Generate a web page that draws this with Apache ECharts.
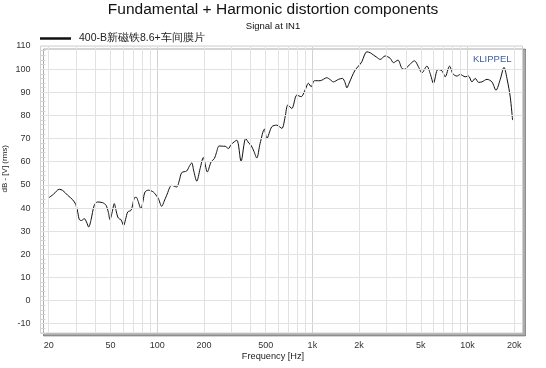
<!DOCTYPE html>
<html><head><meta charset="utf-8">
<script src="https://cdn.jsdelivr.net/npm/echarts@6/dist/echarts.min.js"></script>
<style>html,body{margin:0;padding:0;background:#fff}#c{width:546px;height:368px}</style>
</head><body><div id="c"></div>
<script>
const titleText = 'Fundamental + Harmonic distortion components';
const subtitleText = 'Signal at IN1';
const seriesName = '400-B新磁铁8.6+车间膜片';
const xAxisName = 'Frequency [Hz]';
const yAxisName = 'dB - [V] (rms)';
const freqHz = [20.1,21.5,23.4,24.6,26.5,28.5,29.9,30.8,31.5,32.5,33.9,35,36.2,37.5,39.3,41.3,44.5,46.8,48.5,49.6,51.2,52.9,54.3,55.7,57,58.4,60.8,62.5,64.6,67.8,69.5,71.5,73.5,75,78.6,81,83.4,87.6,94.4,101.7,106.9,111,115.1,124.1,133.6,139,143.9,154.9,161,167,172,179.9,189,198.3,210.5,222.5,233.6,241,250.5,266.9,273.7,287.6,299.3,325.7,347.1,372,390,402.7,420,438.2,460.3,490.7,508.5,547.7,590,635.6,667.5,694.8,737.3,793.9,846.4,897.8,943,982,1031,1122,1239,1300,1367,1473,1562,1626,1668,1726,1796,1886,1981,2084,2165,2245,2357,2475,2603,2734,2944,3171,3332,3557,3776,3923,4208,4551,4829,5078,5470,5744,6030,6441,6835,7178,7651,8047,8540,8970,9660,10146,10675,11210,11770,12380,13340,14360,15240,16250,17170,18030,18850,19500];
const levelDb = [44.5,46,48.1,47.6,45.5,43.6,41.5,38,35.0,34.6,35.4,34,31.8,35,41.2,42.6,42.3,41.2,38,35.0,38,41.9,39,36.1,35.3,35.0,32.5,35,38.3,39.0,41.5,44.5,44.6,43.3,39.7,43,46.9,47.7,46.9,44.1,40.7,43,45.5,49.8,49.1,52,55.3,56.0,58,59.5,56,51.6,57,61.8,55.6,59.9,61.4,64,66.8,66.7,66.7,65.7,67.4,69.3,60.2,70.0,68,67.1,64.5,61.6,67.9,74.1,70.0,75.1,75.8,74.4,79.4,84.5,83.0,88.8,88.1,91.0,93.9,92.4,95.0,95.0,96.3,95.5,94.5,95.6,96.0,94.1,91.9,94.0,96.7,99.6,101.3,103.2,106.1,107.5,107.1,106.1,105.1,104.2,105.7,104.7,102.8,103.9,100.3,99.9,101.8,103.6,101.0,98.4,101.3,98.1,93.9,99.9,99.3,96.7,101.3,98.0,97.0,97.7,96.7,97.0,94.5,96.0,94.3,94.5,95.6,94.5,90.9,95.6,100.8,95.3,87.9,78.0];
const xTickLabels = [20,50,100,200,500,1000,2000,5000,10000,20000];
const xGridValues = [20,30,40,50,60,70,80,90,100,200,300,400,500,600,700,800,900,1000,2000,3000,4000,5000,6000,7000,8000,9000,10000,20000];
const yGridValues = [-10,0,10,20,30,40,50,60,70,80,90,100,110];

const FONT = '"Liberation Sans", Arial, sans-serif';
const chart = echarts.init(document.getElementById('c'), null, {renderer:'canvas'});
const fmtHz = v => v >= 1000 ? (v/1000) + 'k' : String(v);

chart.setOption({
  animation: false,
  backgroundColor: '#fff',
  title: {
    text: titleText, subtext: subtitleText, left: 'center', top: 1.5, padding: 0, itemGap: 2,
    textStyle: {fontFamily: FONT, fontSize: 15.5, fontWeight: 'normal', color: '#111', lineHeight: 17},
    subtextStyle: {fontFamily: FONT, fontSize: 9.5, color: '#111', lineHeight: 12}
  },
  legend: {
    data: [{name: seriesName, icon: 'rect'}], left: 40, top: 33, padding: 0, itemWidth: 31, itemHeight: 2.5, itemGap: 6,
    textStyle: {fontFamily: FONT, fontSize: 10.5, color: '#222', padding: [0,0,0,3]}
  },
  grid: {
    left: 40.5, right: 23.5, top: 46, bottom: 35, show: true, backgroundColor: '#fff',
    borderColor: '#d0d0d0', borderWidth: 1,
    shadowColor: 'rgba(0,0,0,0.33)', shadowOffsetX: 3, shadowOffsetY: 3, shadowBlur: 0
  },
  xAxis: {
    type: 'log', logBase: 10, min: 17.7, max: 22600,
    axisLine: {show: false}, axisTick: {show: false}, splitLine: {show: false}, minorSplitLine: {show:false},
    axisLabel: {customValues: xTickLabels, formatter: v => fmtHz(Math.round(v)), fontFamily: FONT, fontSize: 9, color: '#333', margin: 8}
  },
  yAxis: {
    type: 'value', min: -14, max: 110, interval: 2,
    axisLine: {show: false},
    axisTick: {show: true, inside: true, length: 5, lineStyle: {color: '#d4d4d4'}},
    splitLine: {show: false},
    axisLabel: {formatter: v => (v % 10 === 0 ? String(v) : ''), fontFamily: FONT, fontSize: 9, color: '#333', margin: 10}
  },
  graphic: [
    {type: 'text', left: 1, top: 145, rotation: Math.PI/2, style: {text: yAxisName, font: '8px ' + FONT, fill: '#222'}},
    {type: 'text', left: 'center', top: 352, style: {text: xAxisName, font: '9.2px ' + FONT, fill: '#222'}},
    {type: 'text', left: 473, top: 54, style: {text: 'KLIPPEL', font: '9.5px ' + FONT, fill: '#3f5f9f'}}
  ],
  series: [
    {
      name: '_grid', type: 'line', data: [], z: 1, silent: true,
      markLine: {
        silent: true, symbol: 'none', animation: false, label: {show: false},
        lineStyle: {color: '#e2e2e2', width: 1, type: 'solid'},
        data: xGridValues.map(v => ({xAxis: v, lineStyle: {color: (v === 100 || v === 1000 || v === 10000) ? '#d2d2d2' : '#e2e2e2', type:'solid', width: 1}}))
          .concat(yGridValues.map(v => ({yAxis: v})))
      }
    },
    {
      name: seriesName, type: 'line', z: 3, showSymbol: false, smooth: 0.3,
      data: freqHz.map((f, i) => [f, levelDb[i]]),
      lineStyle: {color: '#111', width: 1}, itemStyle: {color: '#111'}
    }
  ]
});
</script></body></html>
